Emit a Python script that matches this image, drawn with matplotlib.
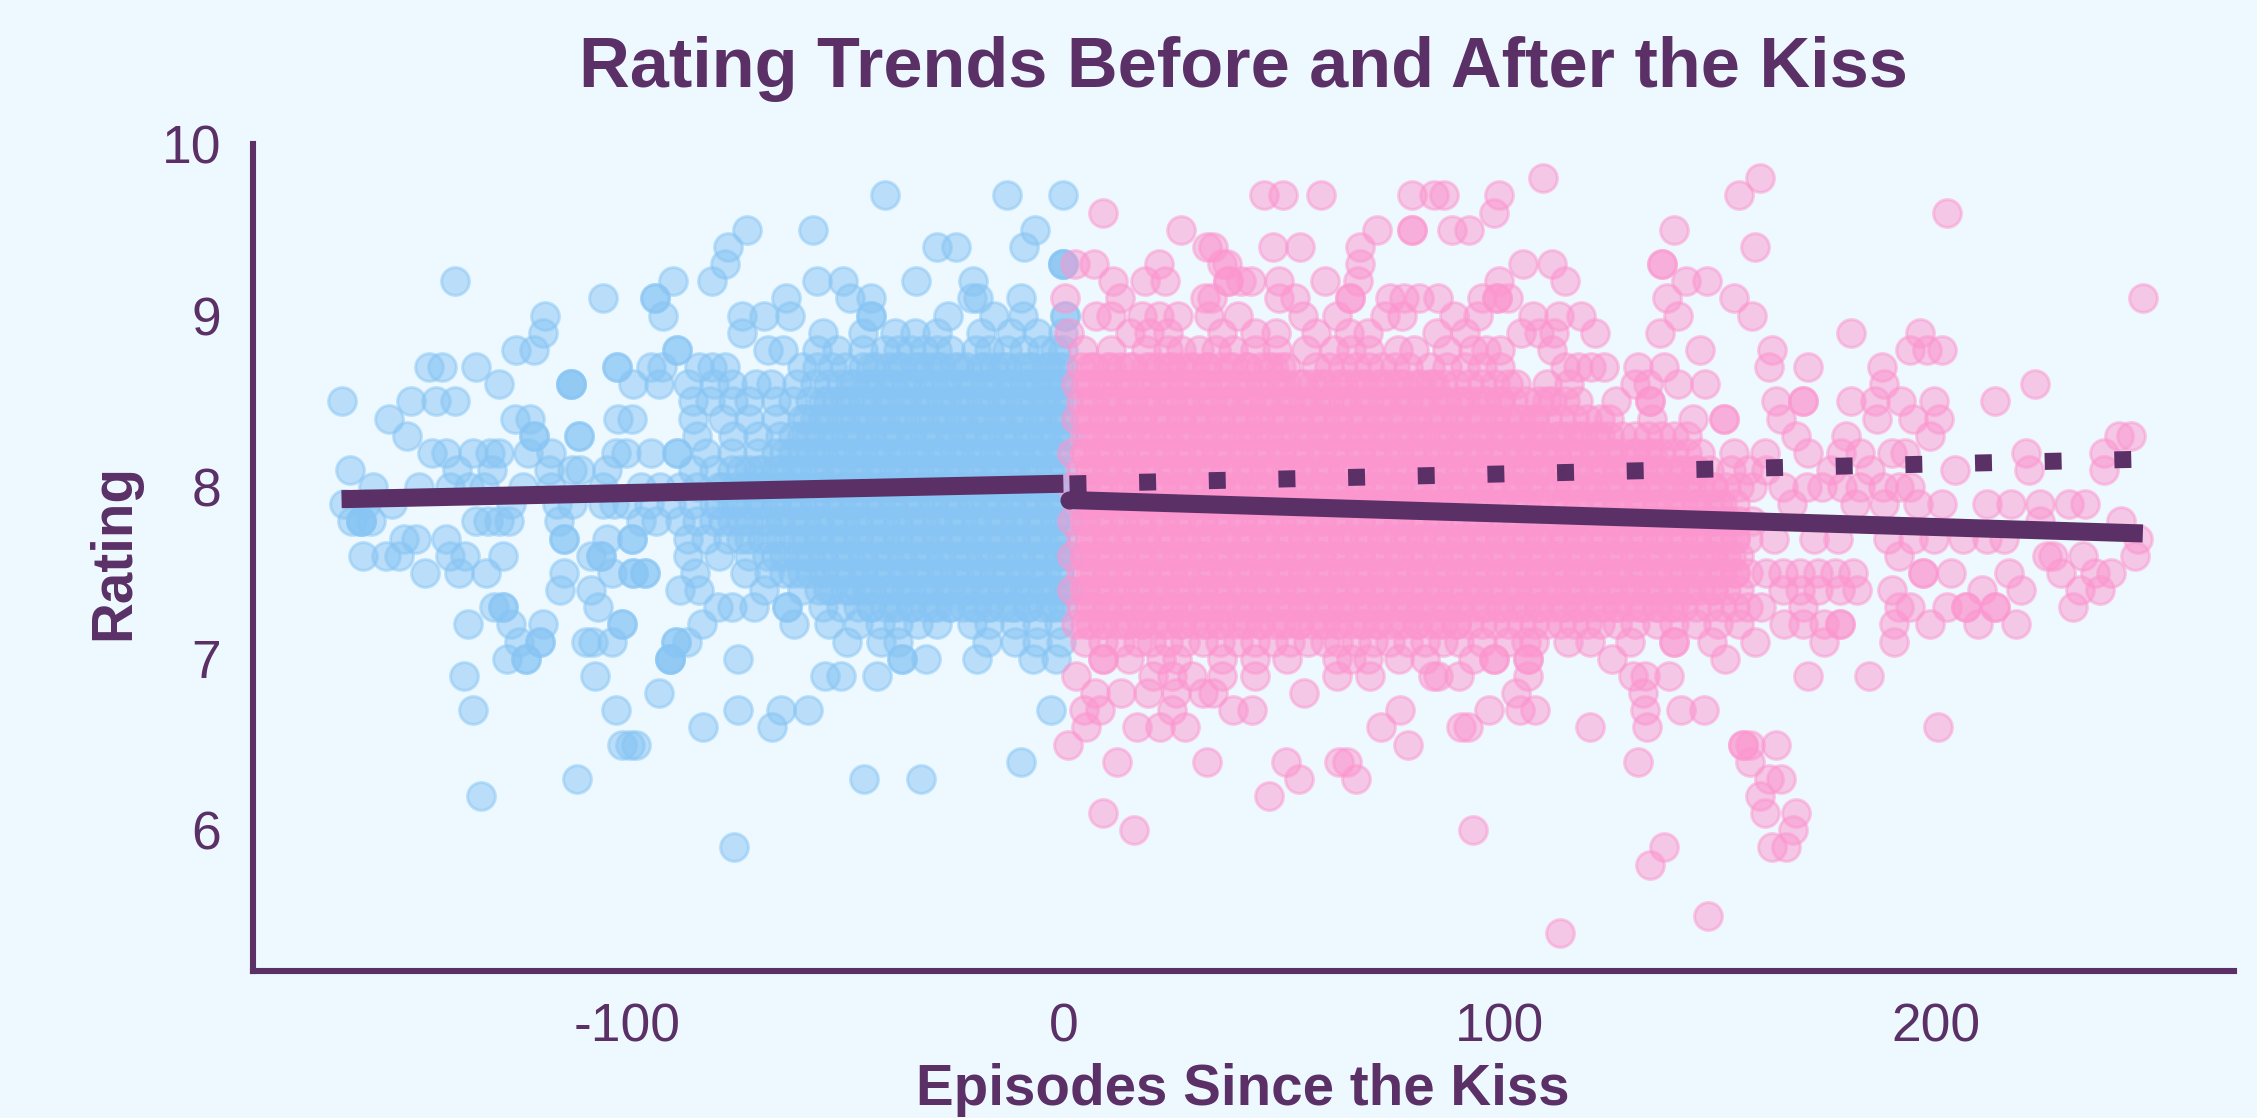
import matplotlib
matplotlib.use("Agg")
import matplotlib.pyplot as plt
import numpy as np

BG = "#EEF9FF"
INK = "#5A3066"
BLUE = "#88C5F4"
PINK = "#FC96CF"

# trend lines: (episode, rating) at each end
before_x = [-165.5, 0]
before_y = [7.93, 8.02]
after_x = [1.4, 247.5]
after_y = [7.925, 7.73]
counter_x = [1.4, 247.5]
counter_y = [8.019, 8.163]

# episodes before the kiss, one list per rating
b97 = [-41, -13, 0]
b95 = [-72.6, -57.5, -6.6]
b94 = [-76.8, -29, -24.6, -9]
b93 = [-77.5, 0, 0, 0]
b92 = [-139.5, -89.5, -80.6, -56.6, -50.5, -33.8, -20.7]
b91 = [-105.6, -93.7, -93.7, -63.6, -49, -44, -21, -19.5, -9.6]
b90 = [-118.8, -91.7, -73.7, -68.7, -62.6, -44, -44, -26.4, -15.8, -9.3, 0.4, 0.4]
b89 = [-119.2, -73.7, -55, -46, -38.6, -34, -29, -19, -12, -6, 0]
b88 = [-125.6, -121.4, -88.5, -88.5, -67.8, -64.3, -56.4, -52, -46, -41, -38, -35, -32, -29, -26, -20, -17, -13, -9, -5, -2, 0]
b87 = [-145.5, -142.5, -134.6, -102.3, -102.3, -94.6, -92, -83.6, -80.6, -77.5, -60, -56.4, -53, -50, -46, -43, -40, -37, -34, -31, -28, -25, -22, -19, -16, -13, -10, -7, -4, -1]
b86 = [-129.5, -113, -113, -113, -98.6, -92.6, -86, -80, -76, -70.5, -67, -61, -57, -54, -51, -48, -45, -42, -39, -36, -33, -30, -27, -24, -21, -18, -15, -12, -9, -6, -3, 0]
b85 = [-165.5, -149.5, -143.8, -139.4, -85, -81, -75.7, -72, -66, -62, -58, -55, -52, -49, -46, -43, -40, -37, -34, -31, -28, -25, -22, -19, -16, -13, -10, -7, -4, -1, 1]
b84 = [-154.6, -125.8, -122.4, -102, -99, -85, -78, -72, -66, -60, -57, -54, -51, -48, -45, -42, -39, -36, -33, -30, -27, -24, -21, -18, -15, -12, -9, -6, -3, 0]
b83 = [-150.5, -121.4, -121.4, -111, -111, -84, -75.7, -70, -65, -60, -56, -53, -50, -47, -44, -41, -38, -35, -32, -29, -26, -23, -20, -17, -14, -11, -8, -5, -2, 1]
b82 = [-144.7, -141.6, -135.4, -131.5, -129.3, -122.7, -117.4, -102.5, -100.3, -94.6, -88.5, -88.5, -81.9, -76, -70, -66, -62, -58, -55, -52, -49, -46, -43, -40, -37, -34, -31, -28, -25, -22, -19, -16, -13, -10, -7, -4, -1]
b81 = [-163.5, -139, -131, -118, -112.6, -110.9, -104.7, -85, -80, -76, -72, -69, -66, -63, -60, -57, -54, -51, -48, -45, -42, -39, -36, -33, -30, -27, -24, -21, -18, -15, -12, -9, -6, -3, 0]
b80 = [-158.3, -147.7, -140.7, -136.3, -132.8, -124, -117.4, -105.6, -96.8, -92.4, -88, -84, -79, -75, -71, -68, -65, -62, -59, -56, -53, -50, -47, -44, -41, -38, -35, -32, -29, -26, -23, -20, -17, -14, -11, -8, -5, -2, 1]
b79 = [-165, -160, -153.9, -126.7, -116.1, -112.6, -105.6, -103, -100, -95, -90, -85, -80, -76, -72, -69, -66, -63, -60, -57, -54, -51, -48, -45, -42, -39, -36, -33, -30, -27, -24, -21, -18, -15, -12, -9, -6, -3, 0]
b78 = [-163, -161, -161, -161, -158.7, -134.6, -132, -129.3, -127, -115.7, -96.8, -93.3, -88, -84, -80, -76, -72, -68, -65, -62, -59, -56, -53, -50, -47, -44, -41, -38, -35, -32, -29, -26, -23, -20, -17, -14, -11, -8, -5, -2, 1]
b77 = [-151.2, -148.4, -141.6, -114.5, -114.5, -104.7, -99, -99, -86, -82, -77, -72, -67, -62, -59, -56, -53, -50, -47, -44, -41, -38, -35, -32, -29, -26, -23, -20, -17, -14, -11, -8, -5, -2, 0]
b76 = [-160.5, -155.2, -152.3, -140.7, -137.2, -128.4, -108.2, -106, -106, -86, -79, -72, -66, -61, -58, -55, -52, -49, -46, -43, -40, -37, -34, -31, -28, -25, -22, -19, -16, -13, -10, -7, -4, -1, 1]
b75 = [-146.4, -138.5, -132.4, -114.4, -103.4, -98.6, -98.6, -96, -96, -84.5, -73, -67.4, -62, -58, -55, -52, -49, -46, -43, -40, -37, -34, -31, -28, -25, -22, -19, -16, -13, -10, -7, -4, -1]
b74 = [-115.4, -108.4, -88, -83.6, -68.7, -60, -56, -53, -50, -47, -44, -41, -38, -35, -32, -29, -26, -23, -20, -17, -14, -11, -8, -5, -2, 1]
b73 = [-130.6, -128.4, -128.4, -106.6, -79.3, -76, -70.9, -63.4, -63.4, -55, -51, -47, -44, -41, -38, -35, -32, -29, -26, -23, -20, -17, -14, -11, -8, -5, -2, 0]
b72 = [-136.5, -126.7, -119.2, -101.2, -101.2, -82.8, -61.7, -53.8, -47, -42, -38, -33.4, -29, -21, -17, -11, -6, -1]
b71 = [-124.9, -120, -120, -109.5, -107.8, -103.4, -88.9, -88.9, -86.3, -49.6, -41.7, -38, -17.6, -11, -6, -0.5]
b70 = [-127.5, -123.3, -123.3, -90.2, -90.2, -90.2, -74.6, -36.9, -36.9, -31.6, -19.8, -7, -1.8]
b69 = [-137.4, -107.5, -54.7, -51, -42.8]
b68 = [-92.6]
b67 = [-135.4, -102.5, -74.6, -64.8, -58.6, -2.8]
b66 = [-82.6, -66.7]
b65 = [-101.2, -99.4, -98.1]
b64 = [-9.7]
b63 = [-111.6, -45.7, -32.7]
b62 = [-133.5]
b59 = [-75.6]

blue_ratings = [9.7, 9.5, 9.4, 9.3, 9.2, 9.1, 9.0, 8.9, 8.8, 8.7, 8.6, 8.5, 8.4, 8.3, 8.2, 8.1, 8.0,
                7.9, 7.8, 7.7, 7.6, 7.5, 7.4, 7.3, 7.2, 7.1, 7.0, 6.9, 6.8, 6.7, 6.6, 6.5, 6.4, 6.3, 6.2, 5.9]
blue_rows = [b97, b95, b94, b93, b92, b91, b90, b89, b88, b87, b86, b85, b84, b83, b82, b81, b80,
             b79, b78, b77, b76, b75, b74, b73, b72, b71, b70, b69, b68, b67, b66, b65, b64, b63, b62, b59]

# more episodes in the packed middle of the blue cloud
bc87 = [-44, -38, -33, -29, -24, -18, -14, -8, -3, 0]
bc86 = [-49, -44, -40, -35, -31, -27, -22, -17, -13, -8, -4, -1]
bc85 = [-54, -50, -45, -41, -36, -32, -27, -23, -18, -14, -9, -5, -2]
bc84 = [-59, -55, -50, -46, -41, -37, -32, -28, -23, -19, -14, -10, -5, -1]
bc83 = [-62, -58, -53, -49, -44, -40, -35, -31, -26, -22, -17, -13, -8, -4, 0]
bc82 = [-64, -60, -56, -51, -47, -42, -38, -33, -29, -24, -20, -15, -11, -6, -2]
bc81 = [-74, -70, -65, -61, -56, -52, -47, -43, -38, -34, -29, -25, -20, -16, -11, -7, -2]
bc80 = [-78, -73, -69, -64, -60, -55, -51, -46, -42, -37, -33, -28, -24, -19, -15, -10, -6, -1]
bc79 = [-79, -75, -70, -66, -61, -57, -52, -48, -43, -39, -34, -30, -25, -21, -16, -12, -7, -3]
bc78 = [-78, -74, -69, -65, -60, -56, -51, -47, -42, -38, -33, -29, -24, -20, -15, -11, -6, -2]
bc77 = [-74, -69, -65, -60, -56, -51, -47, -42, -38, -33, -29, -24, -20, -15, -11, -6, -2]
bc76 = [-68, -64, -59, -55, -50, -46, -41, -37, -32, -28, -23, -19, -14, -10, -5, -1]
bc75 = [-64, -60, -55, -51, -46, -42, -37, -33, -28, -24, -19, -15, -10, -6, -1]
bc74 = [-54, -49, -45, -40, -36, -31, -27, -22, -18, -13, -9, -4, 0]
bc73 = [-44, -39, -35, -30, -26, -21, -17, -12, -8, -3]
blue_core_ratings = [8.7, 8.6, 8.5, 8.4, 8.3, 8.2, 8.1, 8.0, 7.9, 7.8, 7.7, 7.6, 7.5, 7.4, 7.3]
blue_core_rows = [bc87, bc86, bc85, bc84, bc83, bc82, bc81, bc80, bc79, bc78, bc77, bc76, bc75, bc74, bc73]

# episodes after the kiss, one list per rating
p98 = [110, 159.7]
p97 = [45.9, 50.3, 59, 79.9, 85, 87.3, 99.9, 154.8]
p96 = [9.2, 98.8, 202.7]
p95 = [27, 72, 79.9, 79.9, 89, 93, 140]
p94 = [32.9, 34.2, 48, 54.2, 68, 158.6]
p93 = [2.6, 7, 22, 36.4, 37.5, 68, 105.4, 112, 137.2, 137.2]
p92 = [11.4, 18.8, 23.2, 37.7, 37.7, 40.8, 43, 49.4, 60, 67.6, 99.9, 115, 142.7, 147.6]
p91 = [0.4, 13, 32.4, 34, 49.4, 53, 65.8, 65.8, 75, 78, 81.6, 86, 96, 99.4, 99.4, 102, 138.3, 153.7, 247.5]
p90 = [7.4, 10.9, 18, 22, 26.3, 33.3, 40, 55, 62.7, 73.7, 77.6, 89.5, 95, 107.6, 113.6, 118.6, 141, 158]
p89 = [1.3, 15.3, 19.7, 24.1, 36.4, 43.9, 48.7, 57.9, 65.4, 69.8, 85.6, 92, 105, 109, 112.5, 121.9, 136.7, 180.5, 196.4]
p88 = [4.4, 11, 18.9, 24, 27, 31, 35, 39, 44, 49, 55.7, 62, 66, 70, 76.8, 80.3, 88, 94, 97, 100, 112, 146, 162.4, 194.2, 197.9, 201.4]
p87 = [4, 7, 10, 13, 16, 19, 22, 25, 27, 30, 33, 36, 39, 42, 45, 48, 51, 58, 61, 64, 67, 70, 73, 76, 79, 84, 88, 92, 96, 100,
       115, 118, 121, 124, 131.7, 137.8, 161.9, 170.7, 187.7]
p86 = [3, 6, 9, 12, 15, 18, 21, 24, 27, 30, 33, 36, 39, 42, 45, 48, 51, 54, 57, 60, 63, 66, 69, 72, 75, 78, 81, 84, 87, 90, 93,
       96, 99, 102, 103.8, 111, 116, 131, 134, 141, 147, 188.2, 222.8]
p85 = [4, 7, 10, 13, 16, 19, 22, 25, 28, 31, 34, 37, 40, 43, 46, 49, 52, 55, 58, 61, 64, 67, 70, 73, 76, 79, 82, 85, 88, 91, 94,
       97, 100, 103, 106, 109, 110.9, 112, 115, 118, 126.8, 134.5, 134.5, 163.5, 169.6, 169.6, 180.5, 186, 192, 199.7, 213.5]
p84 = [3, 6, 9, 12, 15, 18, 21, 24, 27, 30, 33, 36, 39, 42, 45, 48, 51, 54, 57, 60, 63, 66, 69, 72, 75, 78, 81, 84, 87, 90, 93,
       96, 99, 102, 105, 108, 111, 114, 117, 120, 123, 125, 135, 144.3, 151.5, 151.5, 164.6, 186.6, 194.8, 200.8]
p83 = [5, 8, 11, 14, 17, 20, 23, 26, 29, 32, 35, 38, 41, 44, 47, 50, 53, 56, 59, 62, 65, 68, 71, 74, 77, 80, 83, 86, 89, 92, 95,
       98, 101, 104, 107, 110, 113, 116, 119, 122, 125, 128, 131, 134, 137, 140, 143, 168, 179.5, 198.6, 242, 244.7]
p82 = [2, 5, 8, 11, 14, 17, 20, 23, 26, 29, 32, 35, 38, 41, 44, 47, 50, 53, 56, 59, 62, 65, 68, 71, 74, 77, 80, 83, 86, 89, 92,
       95, 98, 101, 104, 107, 110, 113, 116, 119, 122, 125, 128, 131, 134, 137, 140, 143, 146, 153.7, 160.8, 170.7, 178.3, 182.7, 190, 193, 220.6, 238.7]
p81 = [4, 7, 10, 13, 16, 19, 22, 25, 28, 31, 34, 37, 40, 43, 46, 49, 52, 55, 58, 61, 64, 67, 70, 73, 76, 79, 82, 85, 88, 91, 94,
       97, 100, 103, 106, 109, 112, 115, 118, 121, 124, 127, 130, 133, 136, 139, 142, 145, 148, 153, 157, 161, 176, 185, 204.5, 221.4, 238.5]
p80 = [2, 5, 8, 11, 14, 17, 20, 23, 26, 29, 32, 35, 38, 41, 44, 47, 50, 53, 56, 59, 62, 65, 68, 71, 74, 77, 80, 83, 86, 89, 92,
       95, 98, 101, 104, 107, 110, 113, 116, 119, 122, 125, 128, 131, 134, 137, 140, 143, 146, 149, 152, 155, 158, 165, 170.5, 174, 178.5, 182.7, 188, 191.5, 194]
p79 = [4, 7, 10, 13, 16, 19, 22, 25, 28, 31, 34, 37, 40, 43, 46, 49, 52, 55, 58, 61, 64, 67, 70, 73, 76, 79, 82, 85, 88, 91, 94,
       97, 100, 103, 106, 109, 112, 115, 118, 121, 124, 127, 130, 133, 136, 139, 142, 145, 148, 151, 154, 167, 181.6, 188.2, 195.9, 201.4, 211.8, 217.3, 223.9, 230.5, 234.3]
p78 = [2, 5, 8, 11, 14, 17, 20, 23, 26, 29, 32, 35, 38, 41, 44, 47, 50, 53, 56, 59, 62, 65, 68, 71, 74, 77, 80, 83, 86, 89, 92,
       95, 98, 101, 104, 107, 110, 113, 116, 119, 122, 125, 128, 131, 134, 137, 140, 143, 146, 149, 152, 155, 158, 223.9, 242.5]
p77 = [4, 7, 10, 13, 16, 19, 22, 25, 28, 31, 34, 37, 40, 43, 46, 49, 52, 55, 58, 61, 64, 67, 70, 73, 76, 79, 82, 85, 88, 91, 94,
       97, 100, 103, 106, 109, 112, 115, 118, 121, 124, 127, 130, 133, 136, 139, 142, 145, 148, 151, 154, 157, 163, 172, 177.5, 189, 194.8, 199.7, 206.3, 211.8, 215.6, 246.4]
p76 = [2, 5, 8, 11, 14, 17, 20, 23, 26, 29, 32, 35, 38, 41, 44, 47, 50, 53, 56, 59, 62, 65, 68, 71, 74, 77, 80, 83, 86, 89, 92,
       95, 98, 101, 104, 107, 110, 113, 116, 119, 122, 125, 128, 131, 134, 137, 140, 143, 146, 149, 152, 155, 191.5, 225.5, 227, 233.7, 245.8]
p75 = [4, 7, 10, 13, 16, 19, 22, 25, 28, 31, 34, 37, 40, 43, 46, 49, 52, 55, 58, 61, 64, 67, 70, 73, 76, 79, 82, 85, 88, 91, 94,
       97, 100, 103, 106, 109, 112, 115, 118, 121, 124, 127, 130, 133, 136, 139, 142, 145, 148, 151, 154, 157, 161, 165, 169, 173, 177, 181, 197, 197, 203.6, 216.7, 228.8, 236.5, 240.3]
p74 = [2, 5, 8, 11, 14, 17, 20, 23, 26, 29, 32, 35, 38, 41, 44, 47, 50, 53, 56, 59, 62, 65, 68, 71, 74, 77, 80, 83, 86, 89, 92,
       95, 98, 101, 104, 107, 110, 113, 116, 119, 122, 125, 128, 131, 134, 137, 140, 143, 146, 149, 152, 155, 165, 169, 173, 178, 182, 190, 210.7, 219.5, 233.2, 237.6]
p73 = [4, 7, 10, 13, 16, 19, 22, 25, 28, 31, 34, 37, 40, 43, 46, 49, 52, 55, 58, 61, 64, 67, 70, 73, 76, 79, 82, 85, 88, 91, 94,
       97, 100, 103, 106, 109, 112, 115, 118, 121, 124, 127, 130, 133, 136, 139, 142, 145, 148, 151, 154, 157, 160, 169.6, 191.5, 194, 202.5, 207, 207, 213.5, 213.5, 231.6]
p72 = [3, 6, 9, 12, 15, 18, 21, 24, 27, 30, 33, 36, 39, 42, 45, 48, 51, 54, 57, 60, 63, 66, 69, 72, 75, 78, 81, 84, 87, 90, 93,
       96, 99, 102, 105, 108, 111, 114, 117, 120, 123, 127, 131, 136, 140, 145, 150, 155, 165.2, 169.6, 174.5, 178, 178, 190.4, 198.6, 209.6, 218.4]
p71 = [5, 9, 13, 17, 20, 24, 28, 32, 36, 40, 44, 48, 52, 56, 60, 63, 67, 71, 75, 79, 83, 87, 90.6, 96, 102, 106, 108, 115.8, 120.8, 130, 140, 140, 148.7, 158.6, 174.5, 190.4]
p70 = [9.2, 9.2, 15, 22.4, 26, 36.4, 44, 51.3, 62.7, 66, 69.8, 77, 83, 93.9, 98.8, 98.8, 106.5, 106.5, 125.7, 151.8]
p69 = [3, 20.6, 25, 29.4, 36.4, 43.9, 62.7, 70.2, 84.7, 86, 90.6, 106.5, 130.6, 133.4, 138.9, 170.7, 184.7]
p68 = [7.3, 13.1, 19.3, 25.9, 32, 34.2, 55.1, 103.8, 132.8]
p67 = [4.8, 8.3, 25, 38.9, 43.3, 77.2, 97.7, 104.8, 108.1, 133.4, 141.6, 146.9]
p66 = [5.2, 16.9, 22.2, 28, 72.8, 91.1, 92.8, 120.8, 133.9, 200.5]
p65 = [1.1, 79, 155.9, 155.9, 157.5, 163.5]
p64 = [12.3, 33, 51, 63.2, 65, 131.7, 157.5]
p63 = [54, 67.1, 161.9, 164.6]
p62 = [47.1, 159.7]
p61 = [9.2, 160.8, 167.9]
p60 = [16.2, 93.9, 167.4]
p59 = [137.8, 162.4, 165.7]
p58 = [134.5]
p55 = [147.9]
p54 = [113.8]

pink_ratings = [9.8, 9.7, 9.6, 9.5, 9.4, 9.3, 9.2, 9.1, 9.0, 8.9, 8.8, 8.7, 8.6, 8.5, 8.4, 8.3, 8.2, 8.1, 8.0,
                7.9, 7.8, 7.7, 7.6, 7.5, 7.4, 7.3, 7.2, 7.1, 7.0, 6.9, 6.8, 6.7, 6.6, 6.5, 6.4, 6.3, 6.2, 6.1, 6.0,
                5.9, 5.8, 5.5, 5.4]
pink_rows = [p98, p97, p96, p95, p94, p93, p92, p91, p90, p89, p88, p87, p86, p85, p84, p83, p82, p81, p80,
             p79, p78, p77, p76, p75, p74, p73, p72, p71, p70, p69, p68, p67, p66, p65, p64, p63, p62, p61, p60,
             p59, p58, p55, p54]

# more episodes in the packed middle of the pink cloud
pc87 = [6, 11, 15, 20, 24, 29, 33, 38, 42, 47, 50]
pc86 = [5, 10, 14, 19, 23, 28, 32, 37, 41, 46, 50, 55, 59, 64, 68, 73, 77, 82, 85]
pc85 = [6, 11, 15, 20, 24, 29, 33, 38, 42, 47, 51, 56, 60, 65, 69, 74, 78, 83, 87, 92, 96, 100]
pc84 = [5, 9, 14, 18, 23, 27, 32, 36, 41, 45, 50, 54, 59, 63, 68, 72, 77, 81, 86, 90, 95, 99, 104, 108]
pc83 = [6, 10, 15, 19, 24, 28, 33, 37, 42, 46, 51, 55, 60, 64, 69, 73, 78, 82, 87, 91, 96, 100, 105, 109, 114, 118, 123]
pc82 = [5, 9, 14, 18, 23, 27, 32, 36, 41, 45, 50, 54, 59, 63, 68, 72, 77, 81, 86, 90, 95, 99, 104, 108, 113, 117, 122, 126, 131, 135]
pc81 = [6, 10, 15, 19, 24, 28, 33, 37, 42, 46, 51, 55, 60, 64, 69, 73, 78, 82, 87, 91, 96, 100, 105, 109, 114, 118, 123, 127, 132, 136, 141, 145]
pc80 = [5, 9, 14, 18, 23, 27, 32, 36, 41, 45, 50, 54, 59, 63, 68, 72, 77, 81, 86, 90, 95, 99, 104, 108, 113, 117, 122, 126, 131, 135, 140, 144, 149]
pc79 = [6, 10, 15, 19, 24, 28, 33, 37, 42, 46, 51, 55, 60, 64, 69, 73, 78, 82, 87, 91, 96, 100, 105, 109, 114, 118, 123, 127, 132, 136, 141, 145, 150]
pc78 = [5, 9, 14, 18, 23, 27, 32, 36, 41, 45, 50, 54, 59, 63, 68, 72, 77, 81, 86, 90, 95, 99, 104, 108, 113, 117, 122, 126, 131, 135, 140, 144, 149, 153]
pc77 = [6, 10, 15, 19, 24, 28, 33, 37, 42, 46, 51, 55, 60, 64, 69, 73, 78, 82, 87, 91, 96, 100, 105, 109, 114, 118, 123, 127, 132, 136, 141, 145, 150, 154]
pc76 = [5, 9, 14, 18, 23, 27, 32, 36, 41, 45, 50, 54, 59, 63, 68, 72, 77, 81, 86, 90, 95, 99, 104, 108, 113, 117, 122, 126, 131, 135, 140, 144, 149, 153]
pc75 = [6, 10, 15, 19, 24, 28, 33, 37, 42, 46, 51, 55, 60, 64, 69, 73, 78, 82, 87, 91, 96, 100, 105, 109, 114, 118, 123, 127, 132, 136, 141, 145, 150, 154]
pc74 = [5, 9, 14, 18, 23, 27, 32, 36, 41, 45, 50, 54, 59, 63, 68, 72, 77, 81, 86, 90, 95, 99, 104, 108, 113, 117, 122, 126, 131, 135, 140, 144, 149]
pc73 = [6, 10, 15, 19, 24, 28, 33, 37, 42, 46, 51, 55, 60, 64, 69, 73, 78, 82, 87, 91, 96, 100, 105, 109, 114, 118, 123, 127, 132, 136, 140]
pc72 = [5, 9, 14, 18, 23, 27, 32, 36, 41, 45, 50, 54, 59, 63, 68, 72, 77, 81, 86, 90]
pink_core_ratings = [8.7, 8.6, 8.5, 8.4, 8.3, 8.2, 8.1, 8.0, 7.9, 7.8, 7.7, 7.6, 7.5, 7.4, 7.3, 7.2]
pink_core_rows = [pc87, pc86, pc85, pc84, pc83, pc82, pc81, pc80, pc79, pc78, pc77, pc76, pc75, pc74, pc73, pc72]

x_ticks = [-100, 0, 100, 200]
y_ticks = [6, 7, 8, 9, 10]


def flatten(ratings, rows):
    xs = np.concatenate([np.asarray(r, dtype=float) for r in rows])
    ys = np.concatenate([np.full(len(r), v) for v, r in zip(ratings, rows)])
    return xs, ys


plt.rcParams["font.family"] = ["Liberation Sans", "DejaVu Sans"]
plt.rcParams["axes.unicode_minus"] = False

W, H = 2257, 1118
fig = plt.figure(figsize=(W / 100, H / 100), dpi=100, facecolor=BG)
ax = fig.add_axes([253 / W, 1 - 971 / H, (2234 - 253) / W, (971 - 144) / H], facecolor=BG)
ax.set_xlim(-185.8, 268.4)
ax.set_ylim(5.18, 10)

layers = [
    (blue_ratings, blue_rows, BLUE),
    (blue_core_ratings, blue_core_rows, BLUE),
    (pink_ratings, pink_rows, PINK),
    (pink_core_ratings, pink_core_rows, PINK),
]
for ratings, rows, col in layers:
    xs, ys = flatten(ratings, rows)
    ax.scatter(xs, ys, s=20 ** 2, c=col, alpha=0.5, linewidths=2.2, edgecolors=col, zorder=2)

ax.plot(before_x, before_y, color=INK, lw=13, solid_capstyle="butt", zorder=4)
ax.plot(after_x, after_y, color=INK, lw=13, solid_capstyle="butt", marker="o", ms=13,
        markevery=[0], mew=0, zorder=4)
ax.plot(counter_x, counter_y, color=INK, lw=12.2, linestyle=(0, (1, 3.112)), dash_capstyle="butt", zorder=4)

for side in ["top", "right"]:
    ax.spines[side].set_visible(False)
for side in ["left", "bottom"]:
    ax.spines[side].set_color(INK)
    ax.spines[side].set_linewidth(4.4)

ax.set_xticks(x_ticks)
ax.set_yticks(y_ticks)
ax.tick_params(length=0, labelsize=38.4, labelcolor=INK, pad=0)
ax.tick_params(axis="x", pad=23)
ax.tick_params(axis="y", pad=23)

fig.text(1243 / W, 1 - 69 / H, "Rating Trends Before and After the Kiss", color=INK,
         fontsize=50.6, fontweight="bold", ha="center", va="center")
fig.text(1243 / W, 1 - 1090 / H, "Episodes Since the Kiss", color=INK,
         fontsize=40.7, fontweight="bold", ha="center", va="center")
fig.text(114 / W, 1 - 552 / H, "Rating", color=INK, fontsize=40.7, fontweight="bold",
         rotation=90, ha="center", va="center")

fig.savefig("out.png", dpi=100, facecolor=BG)
